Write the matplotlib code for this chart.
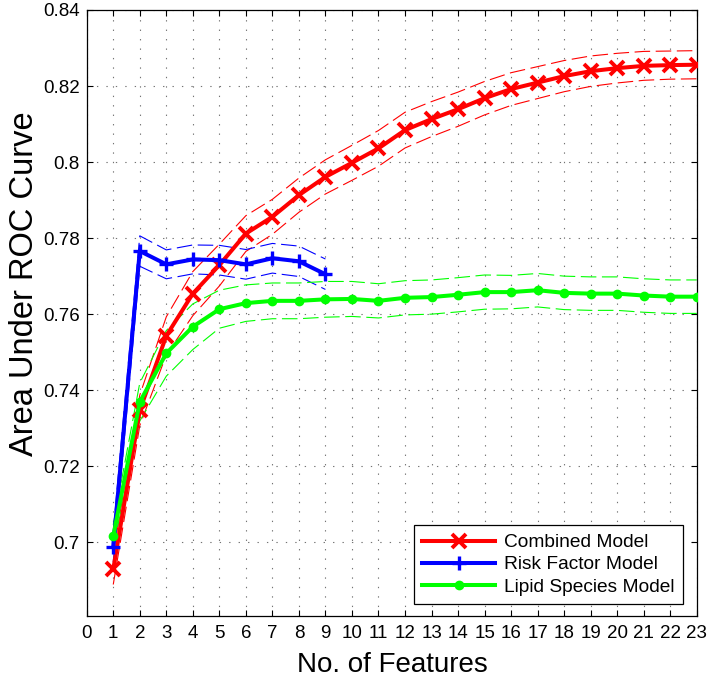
import matplotlib
matplotlib.use("Agg")
import matplotlib.pyplot as plt
import numpy as np

plt.rcParams['font.family'] = ['Liberation Sans', 'DejaVu Sans']

# ---- data ----
features_all = list(range(1, 24))
features_risk = list(range(1, 10))

combined_auc = [0.6929, 0.7347, 0.7543, 0.7654, 0.7729, 0.7812, 0.7856, 0.7913,
                0.7961, 0.7998, 0.8036, 0.8084, 0.8113, 0.8139, 0.8168, 0.8192,
                0.8209, 0.8226, 0.8239, 0.8247, 0.8253, 0.8255, 0.8256]
combined_err = [0.0040, 0.0040, 0.0050, 0.0058, 0.0055, 0.0047, 0.0046, 0.0045,
                0.0045, 0.0046, 0.0047, 0.0047, 0.0046, 0.0045, 0.0044, 0.0043,
                0.0042, 0.0041, 0.0040, 0.0039, 0.0038, 0.0037, 0.0037]

risk_auc = [0.6988, 0.7766, 0.7731, 0.7744, 0.7742, 0.7731, 0.7747, 0.7739, 0.7705]
risk_err = [0.0040, 0.0040, 0.0038, 0.0038, 0.0039, 0.0039, 0.0039, 0.0040, 0.0040]

lipid_auc = [0.7016, 0.7369, 0.7497, 0.7567, 0.7613, 0.7629, 0.7635, 0.7635,
             0.7639, 0.7640, 0.7635, 0.7643, 0.7645, 0.7651, 0.7658, 0.7658,
             0.7663, 0.7656, 0.7654, 0.7654, 0.7649, 0.7646, 0.7646]
lipid_err = [0.0030, 0.0050, 0.0060, 0.0060, 0.0050, 0.0048, 0.0047, 0.0047,
             0.0047, 0.0046, 0.0045, 0.0045, 0.0045, 0.0045, 0.0045, 0.0044,
             0.0044, 0.0044, 0.0044, 0.0044, 0.0044, 0.0044, 0.0044]

labels = ["Combined Model", "Risk Factor Model", "Lipid Species Model"]
x_ticks = list(range(0, 24))
y_ticks = [0.70, 0.72, 0.74, 0.76, 0.78, 0.80, 0.82, 0.84]
y_tick_labels = ["0.7", "0.72", "0.74", "0.76", "0.78", "0.8", "0.82", "0.84"]

# ---- figure ----
fig = plt.figure(figsize=(7.08, 6.78), dpi=100)
ax = fig.add_axes([0.1225, 0.0919, 0.8616, 0.8934])

series = [
    (features_all, combined_auc, combined_err, (1, 0, 0), 'x', 10, 2.8),
    (features_risk, risk_auc, risk_err, (0, 0, 1), '+', 10, 2.4),
    (features_all, lipid_auc, lipid_err, (0, 1, 0), 'o', 6, 1.0),
]

dash = (0, (14, 5))
for (xs, ys, es, col, mk, ms, mew), lab in zip(series, labels):
    xs = np.asarray(xs)
    ys = np.asarray(ys)
    es = np.asarray(es)
    ax.plot(xs, ys + es, color=col, lw=0.8, linestyle=dash, zorder=2)
    ax.plot(xs, ys - es, color=col, lw=0.8, linestyle=dash, zorder=2)
    ax.plot(xs, ys, color=col, lw=2.9, marker=mk, markersize=ms,
            markeredgewidth=mew, label=lab, zorder=3)

ax.set_xlim(0, 23)
ax.set_ylim(0.6807, 0.84)
ax.set_xticks(x_ticks)
ax.set_xticklabels([str(t) for t in x_ticks])
ax.set_yticks(y_ticks)
ax.set_yticklabels(y_tick_labels)

ax.grid(True, color='0.45', linestyle=(0, (1.2, 7.3)), linewidth=0.8)
ax.tick_params(axis='both', which='major', direction='in', length=4.5, width=0.8,
               top=True, right=True, labelsize=13.5, colors='black')
ax.tick_params(axis='x', pad=6.5)
ax.tick_params(axis='y', pad=5)
for s in ax.spines.values():
    s.set_linewidth(0.9)
    s.set_color('black')

fig.text(392 / 708, 1 - 671.7 / 678, "No. of Features", fontsize=20,
         ha='center', va='baseline')
fig.text(33 / 708, 1 - 284 / 678, "Area Under ROC Curve", fontsize=23.5,
         rotation=90, rotation_mode='anchor', ha='center', va='baseline')

leg = ax.legend(loc='lower right', bbox_to_anchor=(683 / 708, 1 - 604.3 / 678),
                bbox_transform=fig.transFigure, fontsize=13.8, handlelength=3.8,
                handletextpad=0.45, borderpad=0.45, borderaxespad=0,
                labelspacing=0.25, fancybox=False, framealpha=1,
                edgecolor='black')
leg.get_frame().set_linewidth(0.9)

fig.savefig("out.png", dpi=100)
